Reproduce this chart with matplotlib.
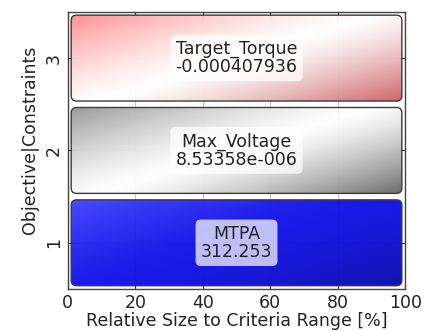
import numpy as np
import matplotlib.pyplot as plt
from matplotlib.patches import FancyBboxPatch

# 目的関数/制約ごとの相対サイズと表示値
levels = [1, 2, 3]
names = ['MTPA', 'Max_Voltage', 'Target_Torque']
values = ['312.253', '8.53358e-006', '-0.000407936']
rel_size = [100, 100, 100]

# グラデーション色 (左上, 中央, 右下)
grad_colors = [
    [(65, 65, 255), (15, 15, 232), (8, 8, 170)],
    [(150, 150, 150), (255, 255, 255), (105, 105, 105)],
    [(255, 140, 140), (255, 255, 255), (205, 95, 100)],
]

BAR_H = 0.93
FS = 12.5


def _gradient(c_start, c_mid, c_end, nx=200, ny=60):
    """左上→右下の斜めグラデーション (RGB 配列) を作る。"""
    u = np.linspace(0, 1, nx)[None, :]
    v = np.linspace(0, 1, ny)[:, None]
    t = 0.55 * u + 0.45 * v
    c0, c1, c2 = (np.array(c, float) / 255 for c in (c_start, c_mid, c_end))
    w0 = np.clip((0.5 - t) / 0.5, 0, 1)[..., None] ** 1.3
    w2 = np.clip((t - 0.5) / 0.5, 0, 1)[..., None] ** 1.3
    img = c1 * (1 - w0 - w2) + c0 * w0 + c2 * w2
    return np.clip(img, 0, 1)


fig = plt.figure(figsize=(4.32, 3.31), dpi=100)
ax = fig.add_axes([0.157, 0.127, 0.781, 0.837])
ax.set_xlim(0, 100)
ax.set_ylim(0.5, 3.5)
ax.set_axisbelow(True)

# 縦横比の違いを補正して角丸を描く
asp = (3.0 / 277) / (100 / 337)

for lv, size, cols, name, val in zip(levels, rel_size, grad_colors, names, values):
    x0, x1 = 1.0, size - 1.0
    y0, y1 = lv - BAR_H / 2, lv + BAR_H / 2
    box = FancyBboxPatch((x0, y0), x1 - x0, y1 - y0,
                         boxstyle='round,pad=0,rounding_size=1.6',
                         mutation_aspect=asp, facecolor='none',
                         edgecolor='#3a3a3a', lw=1.0, zorder=3)
    ax.add_patch(box)
    im = ax.imshow(_gradient(*cols), extent=[x0, x1, y0, y1], origin='upper',
                   aspect='auto', interpolation='bilinear', alpha=0.96, zorder=2)
    im.set_clip_path(box)
    ax.text(50, lv, f'{name}\n{val}', ha='center', va='center', fontsize=FS,
            color='#222222', linespacing=1.0, zorder=5,
            bbox=dict(boxstyle='round,pad=0.3', fc='white', ec='none', alpha=0.72))

ax.set_xticks([0, 20, 40, 60, 80, 100])
ax.set_yticks(levels)
ax.set_yticklabels([str(l) for l in levels], rotation=90, va='center')
ax.tick_params(direction='in', top=True, right=True, length=4, labelsize=FS,
               colors='#333333', labelcolor='#222222')
ax.grid(True, color='#c8c8c8', lw=0.8)
for sp in ax.spines.values():
    sp.set_color('#444444')
    sp.set_linewidth(1.0)
    sp.set_zorder(6)

ax.set_xlabel('Relative Size to Criteria Range [%]', fontsize=FS, color='#222222',
              labelpad=0)
ax.set_ylabel('Objective|Constraints', fontsize=FS, color='#222222')
ax.yaxis.set_label_coords(-0.085, 0.54)

fig.savefig('out.png', dpi=100)
